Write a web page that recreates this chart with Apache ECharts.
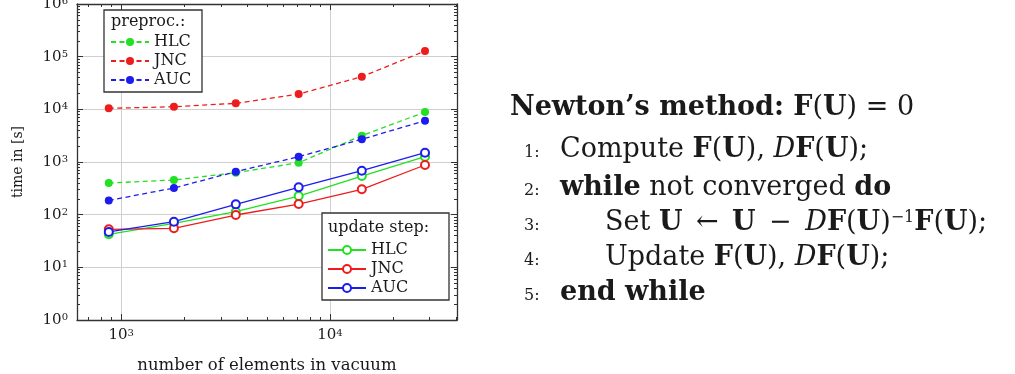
<!DOCTYPE html>
<html>
<head>
<meta charset="utf-8">
<script src="https://cdn.jsdelivr.net/npm/echarts@6/dist/echarts.min.js"></script>
<style>
html, body { margin: 0; padding: 0; background: #fff; }
#chart { width: 1015px; height: 374px; }
</style>
</head>
<body>
<div id="chart"></div>
<script>
// number of elements in vacuum
const elements = [873, 1790, 3540, 7080, 14200, 28500];
// preproc. time [s]
const preHLC = [399, 455, 626, 970, 3160, 8890];
const preJNC = [10450, 11200, 13000, 19500, 41600, 128000];
const preAUC = [186, 321, 655, 1260, 2700, 6080];
// update step time [s]
const updHLC = [42.4, 68.6, 114, 226, 542, 1260];
const updJNC = [52.7, 55.1, 98.5, 159, 303, 877];
const updAUC = [47, 73.5, 157, 330, 684, 1500];

// ticks
const xMajor = [1000, 10000];
const xMinor = [700, 800, 900, 2000, 3000, 4000, 5000, 6000, 7000, 8000, 9000, 20000, 30000, 40000];
const yMajor = [1, 10, 100, 1000, 10000, 100000, 1000000];
const yMinor = [];
for (let d = 1; d < 1000000; d *= 10) {
    for (let k = 2; k <= 9; k++) yMinor.push(k * d);
}

const font = 'DejaVu Serif';
const ink = '#1a1a1a';
const colors = {HLC: '#22e022', JNC: '#ee1c1c', AUC: '#1c1cee'};

function pair(ys) {
    return elements.map((x, i) => [x, ys[i]]);
}

function powLabel(v) {
    const e = Math.round(Math.log10(v));
    return '{b|10}{s|' + e + '}';
}
const powRich = {
    b: {fontFamily: font, fontSize: 15, color: ink},
    s: {fontFamily: font, fontSize: 10, color: ink, verticalAlign: 'top'}
};

function axisSet(dir, pos, major, minor, min, max, withLabels) {
    const base = {
        type: 'log',
        logBase: 10,
        min: min,
        max: max,
        position: pos,
        splitArea: {show: false}
    };
    const main = Object.assign({}, base, {
        axisLine: {show: true, onZero: false, lineStyle: {color: '#333', width: 1.3}},
        axisTick: {show: true, inside: true, length: 6, customValues: major, lineStyle: {color: '#333', width: 1}},
        axisLabel: withLabels
            ? {show: true, customValues: major, formatter: powLabel, rich: powRich, margin: dir === 'x' ? 8 : 9}
            : {show: false},
        splitLine: {show: withLabels, lineStyle: {color: '#cfcfcf', width: 1}}
    });
    const sub = Object.assign({}, base, {
        axisLine: {show: false, onZero: false},
        axisTick: {show: true, inside: true, length: 3, customValues: minor, lineStyle: {color: '#333', width: 1}},
        axisLabel: {show: false},
        splitLine: {show: false}
    });
    return [main, sub];
}

const xMin = 615, xMax = 40550;
const xAxes = axisSet('x', 'bottom', xMajor, xMinor, xMin, xMax, true)
    .concat(axisSet('x', 'top', xMajor, xMinor, xMin, xMax, false));
xAxes[0].name = 'number of elements in vacuum';
xAxes[0].nameLocation = 'middle';
xAxes[0].nameGap = 37;
xAxes[0].nameTextStyle = {fontFamily: font, fontSize: 16.5, color: ink};

const yAxes = axisSet('y', 'left', yMajor, yMinor, 1, 1000000, true)
    .concat(axisSet('y', 'right', yMajor, yMinor, 1, 1000000, false));
yAxes[0].name = 'time in [s]';
yAxes[0].nameLocation = 'middle';
yAxes[0].nameGap = 52;
yAxes[0].nameTextStyle = {fontFamily: font, fontSize: 14, color: ink};

function preSeries(key, ys) {
    return {
        name: 'preproc.: ' + key,
        type: 'line',
        data: pair(ys),
        symbol: 'circle',
        symbolSize: 8,
        itemStyle: {color: colors[key]},
        lineStyle: {color: colors[key], width: 1.3, type: [5, 3.5]},
        animation: false,
        z: 3
    };
}
function updSeries(key, ys) {
    return {
        name: 'update step: ' + key,
        type: 'line',
        data: pair(ys),
        symbol: 'emptyCircle',
        symbolSize: 8,
        itemStyle: {color: colors[key], borderWidth: 1.3},
        lineStyle: {color: colors[key], width: 1.3},
        animation: false,
        z: 3
    };
}

const legendBase = {
    orient: 'vertical',
    padding: 0,
    itemWidth: 38,
    itemHeight: 10,
    itemGap: 3,
    selectedMode: false,
    formatter: name => name.split(': ')[1],
    textStyle: {fontFamily: font, fontSize: 16, color: ink, padding: [0, 0, 0, 0]}
};

const rTxt = {fontFamily: font, fontSize: 27, color: ink};
const algoRich = {
    r: rTxt,
    b: Object.assign({}, rTxt, {fontWeight: 'bold'}),
    i: Object.assign({}, rTxt, {fontStyle: 'italic'}),
    s: {fontFamily: font, fontSize: 16, lineHeight: 12, color: ink, verticalAlign: 'top'}
};
function textEl(x, y, text, rich) {
    return {
        type: 'text',
        x: x,
        y: y,
        z: 10,
        style: {text: text, rich: rich, align: 'left', verticalAlign: 'middle', fill: ink, font: '15px ' + font}
    };
}
const numRich = {n: {fontFamily: font, fontSize: 16, color: ink}};
const boxTitle = {n: {fontFamily: font, fontSize: 16, color: ink}};

const option = {
    animation: false,
    backgroundColor: '#fff',
    grid: {left: 77, top: 4, right: 558, bottom: 54, containLabel: false, outerBoundsMode: 'none'},
    xAxis: xAxes,
    yAxis: yAxes,
    legend: [
        Object.assign({}, legendBase, {
            left: 110, top: 34,
            data: ['preproc.: HLC', 'preproc.: JNC', 'preproc.: AUC']
        }),
        Object.assign({}, legendBase, {
            left: 327, top: 242,
            data: ['update step: HLC', 'update step: JNC', 'update step: AUC']
        })
    ],
    graphic: [
        {type: 'rect', z: 3, shape: {x: 104, y: 10, width: 98, height: 82}, style: {fill: '#fff', stroke: '#333', lineWidth: 1.3}},
        {type: 'rect', z: 3, shape: {x: 322, y: 213, width: 127, height: 87}, style: {fill: '#fff', stroke: '#333', lineWidth: 1.3}},
        textEl(111, 22, '{n|preproc.:}', boxTitle),
        textEl(328, 228, '{n|update step:}', boxTitle),
        textEl(510, 108, '{b|Newton’s method: F}{r|(}{b|U}{r|) = 0}', algoRich),
        textEl(524, 153, '{n|1:}', numRich),
        textEl(560, 150, '{r|Compute }{b|F}{r|(}{b|U}{r|), }{i|D}{b|F}{r|(}{b|U}{r|);}', algoRich),
        textEl(524, 191, '{n|2:}', numRich),
        textEl(560, 188, '{b|while}{r| not converged }{b|do}', algoRich),
        textEl(524, 226, '{n|3:}', numRich),
        textEl(605, 223, '{r|Set }{b|U}{r|\u2002←\u2002}{b|U}{r|\u2002−\u2002}{i|D}{b|F}{r|(}{b|U}{r|)}{s|−1}{b|F}{r|(}{b|U}{r|);}', algoRich),
        textEl(524, 261, '{n|4:}', numRich),
        textEl(605, 258, '{r|Update }{b|F}{r|(}{b|U}{r|), }{i|D}{b|F}{r|(}{b|U}{r|);}', algoRich),
        textEl(524, 296, '{n|5:}', numRich),
        textEl(560, 293, '{b|end while}', algoRich)
    ],
    series: [
        preSeries('HLC', preHLC),
        preSeries('JNC', preJNC),
        preSeries('AUC', preAUC),
        updSeries('HLC', updHLC),
        updSeries('JNC', updJNC),
        updSeries('AUC', updAUC)
    ]
};

const myChart = echarts.init(document.getElementById('chart'));
myChart.setOption(option);
</script>
</body>
</html>
